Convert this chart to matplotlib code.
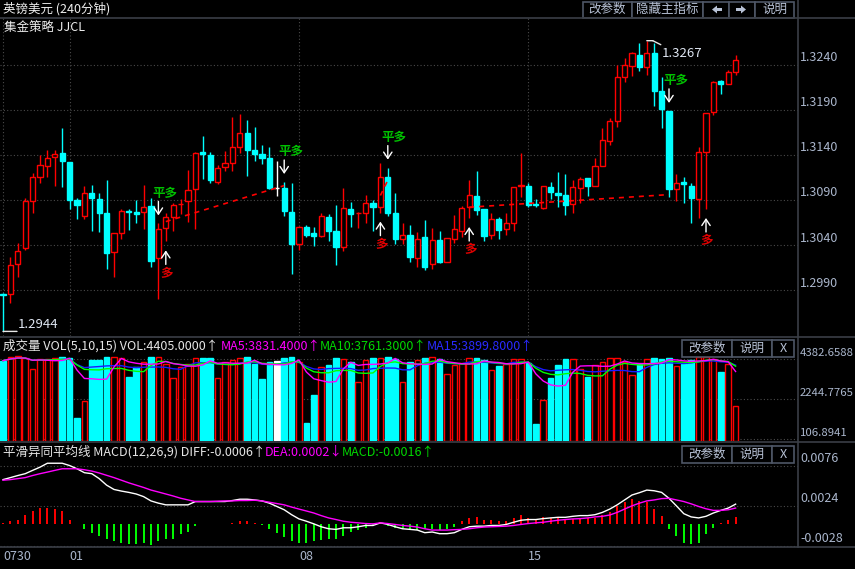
import numpy as np
import pandas as pd
import matplotlib
matplotlib.use('Agg')
import matplotlib.pyplot as plt
import matplotlib.transforms as mtransforms
from matplotlib.patches import Rectangle, FancyArrow

plt.rcParams['font.family'] = ['Noto Sans CJK SC', 'DejaVu Sans']

# ---- 行情数据 (240分钟 K线) ----
opens = [
    1.2986, 1.2986, 1.3019, 1.3037, 1.3089, 1.3116, 1.3128, 1.3138, 1.3142, 1.3132,
    1.3090, 1.3072, 1.3098, 1.3091, 1.3076, 1.3032, 1.3053, 1.3078, 1.3077, 1.3077,
    1.3083, 1.3026, 1.3059, 1.3071, 1.3085, 1.3089, 1.3102, 1.3143, 1.3140, 1.3110,
    1.3127, 1.3131, 1.3149, 1.3164, 1.3146, 1.3141, 1.3137, 1.3103, 1.3103, 1.3077,
    1.3041, 1.3060, 1.3053, 1.3050, 1.3071, 1.3056, 1.3038, 1.3080, 1.3075, 1.3076,
    1.3087, 1.3082, 1.3116, 1.3076, 1.3047, 1.3051, 1.3026, 1.3049, 1.3019, 1.3046,
    1.3021, 1.3047, 1.3056, 1.3082, 1.3094, 1.3080, 1.3051, 1.3069, 1.3058, 1.3064,
    1.3106, 1.3106, 1.3086, 1.3081, 1.3104, 1.3098, 1.3096, 1.3086, 1.3103, 1.3114,
    1.3106, 1.3128, 1.3156, 1.3178, 1.3227, 1.3239, 1.3251, 1.3238, 1.3253, 1.3211,
    1.3189, 1.3102, 1.3110, 1.3106, 1.3091, 1.3143, 1.3188, 1.3222, 1.3219, 1.3232,
]
highs = [
    1.2987, 1.3027, 1.3042, 1.3092, 1.3120, 1.3140, 1.3146, 1.3146, 1.3170, 1.3132,
    1.3092, 1.3106, 1.3107, 1.3098, 1.3112, 1.3053, 1.3080, 1.3080, 1.3090, 1.3107,
    1.3092, 1.3064, 1.3076, 1.3087, 1.3091, 1.3123, 1.3143, 1.3161, 1.3143, 1.3129,
    1.3144, 1.3182, 1.3186, 1.3179, 1.3171, 1.3151, 1.3149, 1.3133, 1.3110, 1.3109,
    1.3061, 1.3062, 1.3060, 1.3076, 1.3074, 1.3084, 1.3103, 1.3088, 1.3077, 1.3096,
    1.3090, 1.3131, 1.3126, 1.3098, 1.3064, 1.3062, 1.3054, 1.3068, 1.3059, 1.3056,
    1.3048, 1.3073, 1.3083, 1.3112, 1.3122, 1.3080, 1.3076, 1.3071, 1.3076, 1.3104,
    1.3142, 1.3109, 1.3091, 1.3106, 1.3110, 1.3121, 1.3119, 1.3112, 1.3116, 1.3114,
    1.3137, 1.3170, 1.3181, 1.3240, 1.3248, 1.3254, 1.3264, 1.3267, 1.3264, 1.3227,
    1.3189, 1.3119, 1.3116, 1.3109, 1.3149, 1.3187, 1.3222, 1.3223, 1.3234, 1.3251,
]
lows = [
    1.2944, 1.2976, 1.3004, 1.3034, 1.3076, 1.3109, 1.3116, 1.3106, 1.3104, 1.3080,
    1.3069, 1.3069, 1.3056, 1.3054, 1.3013, 1.3004, 1.3047, 1.3057, 1.3064, 1.3058,
    1.3016, 1.2980, 1.3044, 1.3056, 1.3074, 1.3066, 1.3058, 1.3113, 1.3109, 1.3108,
    1.3122, 1.3122, 1.3142, 1.3117, 1.3133, 1.3130, 1.3102, 1.3094, 1.3072, 1.3008,
    1.3034, 1.3049, 1.3039, 1.3049, 1.3044, 1.3018, 1.3033, 1.3060, 1.3059, 1.3064,
    1.3056, 1.3076, 1.3072, 1.3041, 1.3041, 1.3021, 1.3016, 1.3012, 1.3013, 1.3020,
    1.3021, 1.3042, 1.3049, 1.3070, 1.3073, 1.3044, 1.3047, 1.3047, 1.3051, 1.3056,
    1.3093, 1.3082, 1.3082, 1.3080, 1.3091, 1.3082, 1.3073, 1.3076, 1.3087, 1.3094,
    1.3106, 1.3128, 1.3151, 1.3171, 1.3221, 1.3228, 1.3233, 1.3229, 1.3194, 1.3170,
    1.3093, 1.3089, 1.3087, 1.3064, 1.3070, 1.3080, 1.3184, 1.3208, 1.3219, 1.3229,
]
closes = [
    1.2984, 1.3018, 1.3033, 1.3089, 1.3116, 1.3129, 1.3137, 1.3141, 1.3133, 1.3090,
    1.3084, 1.3098, 1.3092, 1.3076, 1.3031, 1.3053, 1.3078, 1.3077, 1.3074, 1.3082,
    1.3022, 1.3058, 1.3071, 1.3084, 1.3086, 1.3101, 1.3142, 1.3141, 1.3112, 1.3126,
    1.3131, 1.3149, 1.3164, 1.3146, 1.3141, 1.3137, 1.3103, 1.3103, 1.3078, 1.3041,
    1.3060, 1.3051, 1.3050, 1.3072, 1.3056, 1.3038, 1.3081, 1.3074, 1.3076, 1.3087,
    1.3082, 1.3116, 1.3076, 1.3047, 1.3051, 1.3027, 1.3047, 1.3016, 1.3046, 1.3021,
    1.3048, 1.3058, 1.3081, 1.3096, 1.3079, 1.3050, 1.3069, 1.3057, 1.3064, 1.3104,
    1.3107, 1.3084, 1.3084, 1.3106, 1.3099, 1.3096, 1.3084, 1.3104, 1.3113, 1.3106,
    1.3128, 1.3157, 1.3178, 1.3227, 1.3240, 1.3253, 1.3238, 1.3253, 1.3211, 1.3191,
    1.3102, 1.3109, 1.3108, 1.3092, 1.3143, 1.3187, 1.3221, 1.3219, 1.3232, 1.3246,
]
volumes = [
    4294, 4472, 4543, 4419, 3848, 4383, 4383, 4419, 4490, 4419,
    1247, 2138, 4329, 4329, 4490, 4490, 4419, 3421, 3955, 4240,
    4490, 4490, 4098, 3350, 3973, 4098, 4454, 4454, 4419, 3350,
    4240, 4329, 4419, 4490, 4098, 3314, 4205, 4276, 4454, 4490,
    4240, 980, 2459, 3973, 4062, 4419, 4383, 4205, 3136, 4311,
    4454, 4454, 4490, 4365, 3136, 4205, 4329, 4419, 4490, 4383,
    3563, 4062, 4151, 4419, 4419, 4329, 3777, 4027, 4098, 4383,
    4383, 4187, 891, 2191, 3350, 4062, 4383, 4383, 3848, 3421,
    4062, 4240, 4419, 4419, 4240, 3528, 4098, 4383, 4454, 4383,
    4419, 4027, 4133, 4329, 4490, 4490, 4383, 3706, 4098, 1888,
]
macd_diff = [
    0.00577, 0.00603, 0.0063, 0.00654, 0.00697, 0.00739, 0.0079, 0.0079, 0.0079, 0.0076,
    0.00718, 0.00667, 0.00654, 0.0059, 0.00505, 0.00449, 0.00428, 0.00411, 0.0039, 0.00356,
    0.003, 0.00271, 0.00249, 0.00249, 0.00249, 0.00249, 0.00292, 0.00292, 0.00292, 0.00292,
    0.00292, 0.00305, 0.00322, 0.00322, 0.00313, 0.003, 0.00271, 0.00228, 0.00185, 0.00121,
    0.00066, 0.00036, 0.00002, -0.00036, -0.00062, -0.0007, -0.00049, -0.00049, -0.00036, -0.00019,
    -0.00019, 0.00015, -0.00006, -0.00036, -0.00062, -0.0007, -0.00079, -0.00113, -0.00104, -0.00126,
    -0.00126, -0.00113, -0.0007, -0.00036, -0.00028, -0.00028, -0.00019, -0.00019, -0.00006, 0.00023,
    0.00049, 0.00058, 0.00058, 0.0007, 0.00079, 0.00087, 0.00087, 0.001, 0.00109, 0.00109,
    0.00121, 0.00151, 0.00194, 0.00249, 0.00313, 0.00377, 0.00407, 0.00441, 0.00432, 0.00411,
    0.00334, 0.00236, 0.00134, 0.00092, 0.00079, 0.001, 0.00143, 0.00177, 0.00207, 0.00258,
]
macd_dea = [
    0.00569, 0.00577, 0.0059, 0.00603, 0.0063, 0.00654, 0.00675, 0.00697, 0.00718, 0.00718,
    0.00718, 0.00705, 0.00688, 0.00663, 0.00633, 0.00603, 0.00569, 0.00535, 0.00505, 0.00475,
    0.00441, 0.00416, 0.0039, 0.00364, 0.00335, 0.00313, 0.00292, 0.00292, 0.00292, 0.00296,
    0.003, 0.003, 0.00305, 0.00305, 0.00309, 0.003, 0.00283, 0.00266, 0.00249, 0.0022,
    0.00194, 0.00169, 0.00143, 0.00109, 0.00079, 0.00058, 0.00036, 0.00023, 0.00015, 0.00006,
    0.00002, 0.00015, 0.00006, -0.00006, -0.00019, -0.00028, -0.0004, -0.00062, -0.00079, -0.00079,
    -0.00079, -0.00074, -0.0007, -0.00062, -0.00049, -0.0004, -0.00036, -0.00032, -0.00028, -0.00019,
    -0.00006, 0.00006, 0.00015, 0.00023, 0.00036, 0.00049, 0.00058, 0.00066, 0.0007, 0.00079,
    0.00092, 0.001, 0.00117, 0.00151, 0.00194, 0.00236, 0.00271, 0.003, 0.00313, 0.0033,
    0.00334, 0.00313, 0.00292, 0.00262, 0.00228, 0.00198, 0.00177, 0.00177, 0.00185, 0.00207,
]
macd_hist = [
    0.00013, 0.00034, 0.00055, 0.00119, 0.0017, 0.00204, 0.00204, 0.00196, 0.0017, 0.00055,
    0.00004, -0.00064, -0.00115, -0.00158, -0.00192, -0.00222, -0.00251, -0.00264, -0.00264, -0.00251,
    -0.00268, -0.00222, -0.002, -0.00192, -0.00128, -0.00107, -0.0003, -0.00004, -0.00004, -0.00004,
    -0.00004, 0.00013, 0.00043, 0.00034, 0.00009, -0.00013, -0.00064, -0.00115, -0.00166, -0.00222,
    -0.00243, -0.00251, -0.00222, -0.00209, -0.00192, -0.002, -0.00158, -0.00098, -0.00072, -0.00047,
    -0.0003, 0.00021, -0.0003, -0.00047, -0.00055, -0.00064, -0.00072, -0.00064, -0.00064, -0.00072,
    -0.00064, -0.00038, 0.00034, 0.00077, 0.00089, 0.00055, 0.00055, 0.00043, 0.00043, 0.00077,
    0.00119, 0.00077, 0.00068, 0.00089, 0.00077, 0.00077, 0.00055, 0.00064, 0.00068, 0.00077,
    0.00077, 0.00119, 0.00162, 0.00234, 0.00281, 0.0032, 0.00298, 0.0029, 0.00196, 0.00098,
    -0.00064, -0.00158, -0.00243, -0.00264, -0.00251, -0.00136, -0.00051, 0.00013, 0.00055, 0.00089,
]

# 交易信号: 平多 / 多, 以及持仓连线 (开仓K线, 开仓价, 平仓K线, 平仓价)
close_long_idx = [21, 38, 52, 90]
open_long_idx = [22, 51, 63, 95]
trades = [(22, 1.3066, 38, 1.3106), (51, 1.3095, 52, 1.3112), (63, 1.3082, 90, 1.3096)]

date_ticks = [0, 9, 40, 71]
date_labels = ['0730', '01', '08', '15']
price_ticks = [1.3240, 1.3190, 1.3140, 1.3090, 1.3040, 1.2990]
vol_ticks = [4382.6588, 2244.7765, 106.8941]
macd_ticks = [0.0076, 0.0024, -0.0028]

vol_title = [('成交量 VOL(5,10,15) VOL:4405.0000↑', 3, '#e6e6e6'),
             ('MA5:3831.4000↑', 221, '#ff00ff'),
             ('MA10:3761.3000↑', 320, '#00d800'),
             ('MA15:3899.8000↑', 427, '#2a2aff')]
macd_title = [('平滑异同平均线 MACD(12,26,9) DIFF:-0.0006↑', 3, '#e6e6e6'),
              ('DEA:0.0002↓', 265, '#ff00ff'),
              ('MACD:-0.0016↑', 342, '#00d800')]

# ---- 样式 ----
W, H = 855, 569
BG = '#000000'
RED = '#ff0000'
CYAN = '#00ffff'
WHITE = '#ffffff'
GREEN = '#00ff00'
MAG = '#ff00ff'
GRID = '#4a4a4a'
SEP = '#3a3e46'
AXTXT = '#aab6cc'
BTN_EDGE = '#4e5666'
BTN_TXT = '#b8c2d6'
STEP = 7.4      # 每根K线的像素间距
X0 = 3          # 第一根K线的像素位置
PLOT_R = 798    # 右侧坐标轴分隔线

fig = plt.figure(figsize=(W / 100, H / 100), dpi=100, facecolor=BG)


def px_axes(x0, y0, x1, y1):
    ax = fig.add_axes([x0 / W, 1 - y1 / H, (x1 - x0) / W, (y1 - y0) / H])
    ax.set_facecolor(BG)
    ax.set_xticks([])
    ax.set_yticks([])
    for s in ax.spines.values():
        s.set_visible(False)
    ax.set_xlim(-X0 / STEP, (PLOT_R - X0) / STEP)
    return ax


def shifted(ax, dx=0, dy=0):
    return mtransforms.offset_copy(ax.transData, fig=fig, x=dx, y=dy, units='dots')


def right_labels(ax, ticks, labels, dy=7, size=9):
    tr = mtransforms.blended_transform_factory(ax.transAxes, ax.transData)
    for t, s in zip(ticks, labels):
        ax.axhline(t, color=GRID, lw=0.8, ls=(0, (1, 2)), zorder=0)
        ax.annotate(s, xy=(1, t), xycoords=tr, xytext=(2, dy), textcoords='offset pixels',
                    ha='left', va='center', color=AXTXT, fontsize=size, annotation_clip=False)


n = len(closes)
x = np.arange(n)
cols = [RED if closes[i] > opens[i] else (CYAN if closes[i] < opens[i] else WHITE) for i in range(n)]

# ---- 主图 K线 ----
ax = px_axes(0, 18, PLOT_R, 336)
ax.set_ylim(1.293889, 1.329222)
right_labels(ax, price_ticks, [f'{t:.4f}' for t in price_ticks])
for d in date_ticks:
    ax.axvline(d, color=GRID, lw=0.8, ls=(0, (1, 2)), zorder=0)

bw = 0.68
for i in range(n):
    o, h, l, c = opens[i], highs[i], lows[i], closes[i]
    top, bot = max(o, c), min(o, c)
    if cols[i] == RED:
        ax.vlines(i, top, h, color=RED, lw=1)
        ax.vlines(i, l, bot, color=RED, lw=1)
        ax.add_patch(Rectangle((i - bw / 2, bot), bw, top - bot, facecolor=BG, edgecolor=RED, lw=1, zorder=3))
    else:
        ax.vlines(i, l, h, color=cols[i], lw=1)
        ax.add_patch(Rectangle((i - bw / 2, bot), bw, top - bot, facecolor=cols[i], edgecolor=cols[i], lw=1, zorder=3))

for i0, p0, i1, p1 in trades:
    ax.plot([i0, i1], [p0, p1], color=RED, lw=1.2, ls=(0, (3, 3)), zorder=4)

arrow_kw = dict(arrowstyle='->, head_length=0.45, head_width=0.3', color='white', lw=1, shrinkA=0, shrinkB=0)
for i in close_long_idx:
    ax.annotate('', xy=(i, highs[i]), xycoords=shifted(ax, 0, 8),
                xytext=(i, highs[i]), textcoords=shifted(ax, 0, 22), arrowprops=arrow_kw, zorder=5)
    ax.text(i, highs[i], '平多', transform=shifted(ax, -6, 30), color='#00c000',
            fontsize=9, fontweight='bold', ha='left', va='center', zorder=5)
for i in open_long_idx:
    ax.annotate('', xy=(i, lows[i]), xycoords=shifted(ax, 0, -9),
                xytext=(i, lows[i]), textcoords=shifted(ax, 0, -23), arrowprops=arrow_kw, zorder=5)
    ax.text(i, lows[i], '多', transform=shifted(ax, 1, -32), color='#e00000',
            fontsize=9, fontweight='bold', ha='center', va='center', zorder=5)

# 最高 / 最低价标注
imax = int(np.argmax(highs))
imin = int(np.argmin(lows))
line_kw = dict(arrowstyle='-', color='#e8e8e8', lw=1, shrinkA=0, shrinkB=0)
ax.annotate('', xy=(imax, highs[imax]), xytext=(6, 0), textcoords='offset pixels', arrowprops=line_kw)
ax.annotate('', xy=(imax, highs[imax]), xycoords=shifted(ax, 6, 0), xytext=(8, -4),
            textcoords='offset pixels', arrowprops=line_kw)
ax.annotate(f'{highs[imax]:.4f}', xy=(imax, highs[imax]), xytext=(15, -13), textcoords='offset pixels',
            color='#dfe6f2', fontsize=9.5, ha='left', va='center')
ax.annotate('', xy=(imin, lows[imin]), xytext=(14, 0), textcoords='offset pixels', arrowprops=line_kw)
ax.annotate(f'{lows[imin]:.4f}', xy=(imin, lows[imin]), xytext=(15, 7), textcoords='offset pixels',
            color='#dfe6f2', fontsize=9.5, ha='left', va='center')

# ---- 成交量 ----
axv = px_axes(0, 337, PLOT_R, 441)
axv.set_ylim(0, 5558)
right_labels(axv, vol_ticks, [f'{t:.4f}' for t in vol_ticks], dy=6, size=8.2)
for i, v in enumerate(volumes):
    face = BG if cols[i] == RED else cols[i]
    axv.bar(i, v, width=0.74, facecolor=face, edgecolor=cols[i], lw=1)
vs = pd.Series(volumes, dtype=float)
axv.plot(x, vs.rolling(15, min_periods=1).mean(), color='#1a1aff', lw=1)
axv.plot(x, vs.rolling(10, min_periods=1).mean(), color=GREEN, lw=1)
axv.plot(x, vs.rolling(5, min_periods=1).mean(), color=MAG, lw=1)

# ---- MACD ----
axm = px_axes(0, 443, PLOT_R, 547)
axm.set_ylim(-0.00299, 0.01053)
right_labels(axm, macd_ticks, [f'{t:.4f}' for t in macd_ticks])
hist = np.array(macd_hist)
axm.vlines(x, 0, hist, colors=[RED if h > 0 else GREEN for h in hist], lw=1.4)
axm.plot(x, macd_diff, color='white', lw=1)
axm.plot(x, macd_dea, color=MAG, lw=1)

# ---- 界面框架: 标题, 按钮, 分隔线 ----
ov = fig.add_axes([0, 0, 1, 1], zorder=10)
ov.set_xlim(0, W)
ov.set_ylim(H, 0)
ov.axis('off')

for yy in (18, 336.5, 442, 547):
    ov.plot([0, W], [yy, yy], color=SEP, lw=1.2)
ov.plot([PLOT_R, PLOT_R], [0, 547], color=SEP, lw=1.2)

ov.text(3, 9, '英镑美元 (240分钟)', color='#eeeeee', fontsize=9, va='center')
ov.text(4, 27, '集金策略 JJCL', color='#eeeeee', fontsize=9, va='center')
for s, xx, c in vol_title:
    ov.text(xx, 346, s, color=c, fontsize=9, va='center')
for s, xx, c in macd_title:
    ov.text(xx, 452, s, color=c, fontsize=9, va='center')


def button(x0, x1, y0, y1, label=None):
    ov.add_patch(Rectangle((x0, y0), x1 - x0, y1 - y0, facecolor=BG, edgecolor=BTN_EDGE, lw=1.2))
    if label:
        ov.text((x0 + x1) / 2, (y0 + y1) / 2, label, color=BTN_TXT, fontsize=9, ha='center', va='center')


button(583, 632, 1.5, 17.5, '改参数')
button(632, 703, 1.5, 17.5, '隐藏主指标')
button(703, 729, 1.5, 17.5)
button(729, 755, 1.5, 17.5)
button(755, 794, 1.5, 17.5, '说明')
ov.add_patch(FancyArrow(722, 9.5, -10, 0, width=3, head_width=8, head_length=5,
                        length_includes_head=True, color=BTN_TXT, lw=0))
ov.add_patch(FancyArrow(736, 9.5, 10, 0, width=3, head_width=8, head_length=5,
                        length_includes_head=True, color=BTN_TXT, lw=0))
for yt in (339.5, 445.5):
    button(682, 732, yt, yt + 17, '改参数')
    button(732, 772, yt, yt + 17, '说明')
    button(772, 794, yt, yt + 17, 'X')

# 日期标签
date_tr = mtransforms.blended_transform_factory(axm.transData, ov.transData)
for d, s in zip(date_ticks, date_labels):
    ov.text(d, 557, s, transform=date_tr, color=AXTXT, fontsize=9, ha='left', va='center')

fig.savefig('out.png', dpi=100, facecolor=BG)
